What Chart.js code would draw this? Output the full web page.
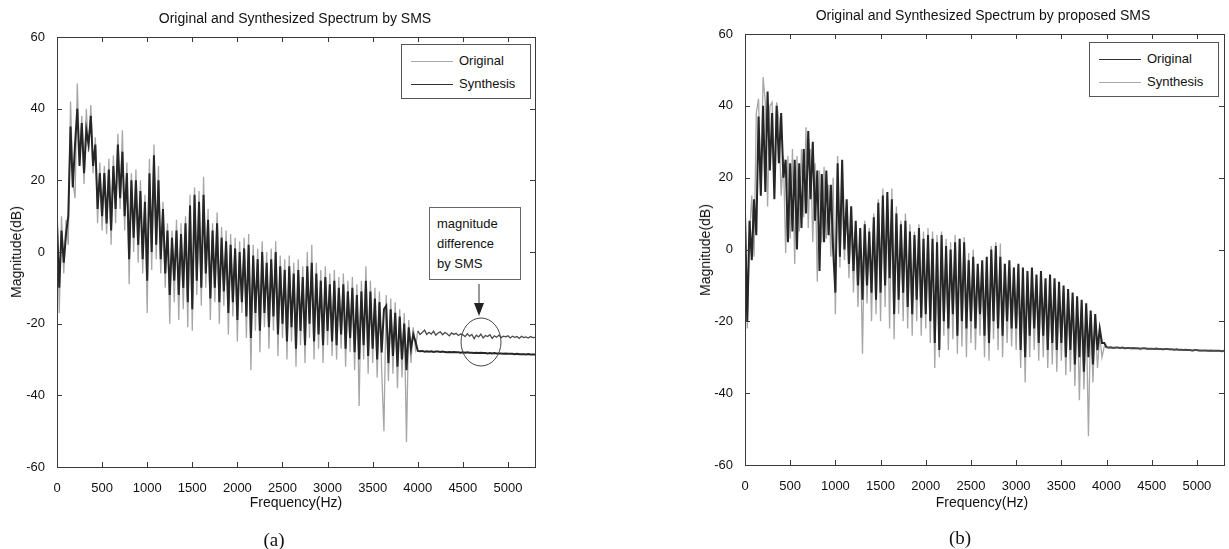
<!DOCTYPE html>
<html>
<head>
<meta charset="utf-8">
<script src="https://cdn.jsdelivr.net/npm/chart.js@4.4.0/dist/chart.umd.min.js"></script>
<style>
body{margin:0;background:#fff;width:1229px;height:549px;position:relative;overflow:hidden;font-family:"Liberation Sans",Arial,sans-serif;color:#111}
canvas,.abs{position:absolute}
.ttl{font-size:14px;white-space:nowrap;transform:translate(-50%,-50%)}
.ylab{font-size:14px;white-space:nowrap;transform:translate(-50%,-50%) rotate(-90deg)}
.cap{font-family:"Liberation Serif","Times New Roman",serif;font-size:19px;transform:translate(-50%,-50%)}
.legend{border:1px solid #555;background:#fff;font-size:13px}
.legend .row{position:absolute;left:0;height:16px;line-height:16px;white-space:nowrap}
.legend .ln{position:absolute;top:8px;height:0}
.note{border:1px solid #666;background:#fff;font-size:13px;line-height:20px;padding:6px 0 0 7px;box-sizing:border-box}
</style>
</head>
<body>
<canvas id="chartA" width="560" height="549" style="left:0;top:0"></canvas>
<canvas id="chartB" width="539" height="549" style="left:690px;top:0"></canvas>

<div class="abs ttl" style="left:295px;top:18px">Original and Synthesized Spectrum by SMS</div>
<div class="abs ttl" style="left:983px;top:15px">Original and Synthesized Spectrum by proposed SMS</div>
<div class="abs ylab" style="left:16px;top:252px">Magnitude(dB)</div>
<div class="abs ylab" style="left:705px;top:250px">Magnitude(dB)</div>
<div class="abs ttl" style="left:296px;top:502px">Frequency(Hz)</div>
<div class="abs ttl" style="left:982px;top:502px">Frequency(Hz)</div>
<div class="abs cap" style="left:274px;top:540px">(a)</div>
<div class="abs cap" style="left:960px;top:538px">(b)</div>

<div class="abs legend" style="left:401px;top:44px;width:128px;height:53px">
  <div class="row" style="top:8px"><div class="ln" style="left:9px;width:42px;border-top:1px solid #aaa"></div><span style="position:absolute;left:57px">Original</span></div>
  <div class="row" style="top:31px"><div class="ln" style="left:9px;width:42px;border-top:1px solid #333"></div><span style="position:absolute;left:57px">Synthesis</span></div>
</div>
<div class="abs legend" style="left:1089px;top:42px;width:128px;height:53px">
  <div class="row" style="top:8px"><div class="ln" style="left:9px;width:42px;border-top:1px solid #333"></div><span style="position:absolute;left:57px">Original</span></div>
  <div class="row" style="top:31px"><div class="ln" style="left:9px;width:42px;border-top:1px solid #aaa"></div><span style="position:absolute;left:57px">Synthesis</span></div>
</div>

<div class="abs note" style="left:429px;top:207px;width:92px;height:73px">magnitude<br>difference<br>by SMS</div>
<svg class="abs" style="left:0;top:0" width="1229" height="549">
  <line x1="479" y1="284" x2="479" y2="306" stroke="#333" stroke-width="1"/>
  <polygon points="474,303 484,303 479,316" fill="#222"/>
  <ellipse cx="481" cy="342" rx="20" ry="24" stroke="#444" stroke-width="1" fill="none"/>
</svg>

<script>
var origA = [
  14,-17,10,-6,9,2,42,20,15,47,26,38,19,40,28,41,22,32,8,25,
  6,24,5,26,2,27,8,33,12,34,6,25,-9,22,0,23,-3,20,-6,16,
  -17,26,-5,30,-2,24,-6,14,-10,8,-20,6,-14,9,-19,8,-16,10,-21,16,
  -22,18,-12,17,-15,21,-10,12,-19,8,-14,11,-20,7,-15,6,-23,5,-18,4,
  -25,3,-17,4,-24,5,-33,2,-22,1,-28,3,-21,0,-27,1,-22,3,-29,-1,
  -24,-2,-30,-1,-25,-3,-32,-2,-26,-4,-31,0,-24,2,-30,-3,-27,-5,-31,-4,
  -26,-6,-29,-5,-30,-7,-27,-6,-32,-8,-28,-7,-33,-9,-43,-8,-30,-4,-34,-8,
  -31,-10,-35,-11,-33,-50,-12,-36,-13,-34,-14,-38,-16,-35,-17,-53,-19,-31,-21,-27,
  -22,-23,-22.5,-21.8,-23,-22.4,-22.9,-22.1,-23.2,-22.6,-22.3,-23.1,-22.5,-22.8,-23.4,-22.6,-23,-22.7,-23.3,-22.9,
  -23.1,-23.6,-22.8,-23.5,-23.0,-24.2,-23.2,-23.7,-22.9,-24.0,-23.3,-23.6,-23.1,-24.1,-23.4,-23.8,-23.2,-23.9,-23.5,-23.7,
  -23.4,-24.0,-23.5,-23.8,-23.6,-24.1,-23.5,-23.9,-23.7,-24.0,-23.6,-23.9,-23.8
];
var synA = [
  8,-10,6,-3,5,10,35,18,30,40,24,36,22,34,30,38,24,30,12,22,
  10,22,8,23,6,24,12,30,15,28,10,22,-2,20,4,20,2,17,-2,14,
  -8,22,0,27,2,20,-2,12,-6,6,-12,4,-8,6,-12,5,-10,8,-14,13,
  -16,16,-8,14,-10,16,-6,9,-13,6,-10,8,-14,4,-11,3,-17,2,-14,1,
  -19,0,-14,1,-18,2,-24,-1,-17,-2,-22,0,-17,-3,-21,-2,-18,0,-23,-4,
  -20,-5,-25,-4,-21,-6,-27,-5,-22,-7,-26,-4,-20,-3,-25,-6,-23,-8,-26,-7,
  -22,-9,-25,-8,-26,-10,-23,-9,-27,-11,-24,-10,-28,-12,-30,-11,-26,-8,-29,-11,
  -27,-13,-30,-14,-28,-16,-15,-31,-16,-29,-17,-32,-18,-30,-20,-33,-21,-27,-23,-25,
  -27.6,-27.7,-27.6,-27.8,-27.7,-27.8,-27.7,-27.9,-27.8,-27.8,-27.9,-27.8,-27.9,-28.0,-27.9,-28.0,-27.9,-28.0,-28.0,-28.1,
  -28.0,-28.1,-28.0,-28.1,-28.1,-28.2,-28.1,-28.2,-28.1,-28.2,-28.2,-28.3,-28.2,-28.3,-28.2,-28.3,-28.3,-28.3,-28.4,-28.3,
  -28.4,-28.4,-28.4,-28.5,-28.4,-28.5,-28.5,-28.5,-28.6,-28.5,-28.6,-28.6,-28.6
];
var origB = [
  10,-20,8,-3,14,4,37,15,40,16,44,22,38,14,40,24,38,20,25,2,
  24,5,25,0,24,6,28,10,33,14,30,8,22,-6,21,2,22,4,18,0,
  -12,24,-2,25,0,14,-4,12,-6,8,-10,6,-14,7,-10,5,-12,9,-14,13,
  -12,15,-10,16,-8,14,-18,10,-14,7,-12,8,-16,5,-18,4,-14,6,-19,3,
  -18,4,-20,3,-26,2,-28,4,-20,1,-22,0,-18,2,-24,3,-20,2,-22,-3,
  -20,-2,-22,-4,-18,-3,-24,-2,-26,0,-20,1,-22,-2,-24,-4,-20,-3,-22,-5,
  -22,-4,-28,-5,-30,-6,-24,-5,-22,-7,-26,-6,-24,-8,-28,-7,-26,-8,-28,-9,
  -26,-10,-30,-11,-28,-12,-32,-13,-30,-14,-34,-15,-30,-17,-32,-18,-28,-22,-26,-26,
  -27.2,-27.3,-27.2,-27.4,-27.3,-27.3,-27.4,-27.3,-27.5,-27.4,-27.4,-27.5,-27.4,-27.5,-27.5,-27.6,-27.5,-27.5,-27.6,-27.6,
  -27.6,-27.7,-27.6,-27.7,-27.7,-27.8,-27.7,-27.7,-27.8,-27.8,-27.9,-27.8,-27.9,-27.9,-28.0,-27.9,-28.0,-28.0,-28.1,-28.0,
  -28.0,-28.1,-28.1,-28.1,-28.1,-28.2,-28.1,-28.2,-28.2,-28.2,-28.2,-28.3,-28.2
];
var synB = [
  13,-22,4,15,-2,38,42,15,48,41,12,40,41,20,41,36,15,26,-1,26,
  3,28,-4,26,5,28,9,34,6,28,2,24,-9,22,2,23,3,18,-2,20,
  -18,26,-5,20,-3,12,-8,10,-12,6,-16,4,-29,8,-15,6,-20,10,-18,14,
  -20,17,-16,15,-22,17,-25,12,-18,8,-20,10,-22,7,-24,5,-20,7,-24,5,
  -22,6,-26,5,-33,4,-30,5,-24,3,-28,2,-25,4,-29,3,-27,3.5,-30,-1,
  -26,0,-28,-5,-24,-4,-30,-3,-31,1,-25,2,-28,1.7,-30,-4,-26,-5,-27,-5,
  -28,-5,-33,-6,-37,-7,-30,-6,-28,-8,-31,-8,-30,-9,-33,-8,-32,-9,-34,-10,
  -31,-11,-35,-12,-34,-13,-38,-14,-42,-15,-39,-16,-52,-18,-37,-20,-33,-24,-30,-27,
  -27.3,-27.4,-27.3,-27.5,-27.4,-27.4,-27.5,-27.4,-27.6,-27.5,-27.5,-27.6,-27.5,-27.6,-27.6,-27.7,-27.6,-27.6,-27.7,-27.7,
  -27.7,-27.8,-27.7,-27.8,-27.8,-27.9,-27.8,-27.8,-27.9,-27.9,-28.0,-27.9,-28.0,-28.0,-28.1,-28.0,-28.1,-28.1,-28.2,-28.1,
  -28.1,-28.2,-28.2,-28.2,-28.2,-28.3,-28.2,-28.3,-28.3,-28.3,-28.3,-28.4,-28.3
];
var binHz = 25;
var freqMax = 5300;
var xTicks = [0, 500, 1000, 1500, 2000, 2500, 3000, 3500, 4000, 4500, 5000];
var yTicks = [-60, -40, -20, 0, 20, 40, 60];

var lightGray = "#a6a6a6";
var darkGray = "#262626";

function pts(vals) {
  return vals.map(function (v, i) { return { x: i * binHz, y: v }; });
}

// matlab style: box round the axes, ticks pointing inward on all sides
var boxTicks = {
  id: "boxTicks",
  afterDatasetsDraw: function (chart) {
    var ctx = chart.ctx, a = chart.chartArea, x = chart.scales.x, y = chart.scales.y;
    ctx.save();
    ctx.strokeStyle = "#3a3a3a";
    ctx.lineWidth = 1;
    ctx.strokeRect(Math.round(a.left) + 0.5, Math.round(a.top) + 0.5, Math.round(a.right - a.left), Math.round(a.bottom - a.top));
    ctx.beginPath();
    x.ticks.forEach(function (t) {
      var px = Math.round(x.getPixelForValue(t.value)) + 0.5;
      ctx.moveTo(px, a.bottom); ctx.lineTo(px, a.bottom - 5);
      ctx.moveTo(px, a.top); ctx.lineTo(px, a.top + 5);
    });
    y.ticks.forEach(function (t) {
      var py = Math.round(y.getPixelForValue(t.value)) + 0.5;
      ctx.moveTo(a.left, py); ctx.lineTo(a.left + 5, py);
      ctx.moveTo(a.right, py); ctx.lineTo(a.right - 5, py);
    });
    ctx.stroke();
    ctx.restore();
  }
};

function makeChart(id, origVals, synVals, origColor, synColor, yWidth, pad) {
  var origTop = origColor === darkGray;
  var tickFont = { family: "Liberation Sans", size: 13 };
  var thick = 2, thin = 1.3;
  return new Chart(id, {
    type: "line",
    data: {
      datasets: [
        { label: "Original", data: pts(origVals), borderColor: origColor, borderWidth: origTop ? thick : thin, pointRadius: 0, order: origTop ? 0 : 1,
          segment: { borderColor: function (c) { return c.p0.parsed.x >= 4000 ? "#4a4a4a" : undefined; } } },
        { label: "Synthesis", data: pts(synVals), borderColor: synColor, borderWidth: origTop ? thin : thick, pointRadius: 0, order: origTop ? 1 : 0 }
      ]
    },
    options: {
      responsive: false,
      animation: false,
      layout: { padding: pad },
      plugins: { legend: { display: false }, tooltip: { enabled: false } },
      elements: { line: { tension: 0, borderJoinStyle: "miter" } },
      scales: {
        x: {
          type: "linear", min: 0, max: freqMax,
          grid: { display: false }, border: { display: false },
          afterBuildTicks: function (s) { s.ticks = xTicks.map(function (v) { return { value: v }; }); },
          ticks: { autoSkip: false, maxRotation: 0, padding: 6, color: "#111", font: tickFont,
                   callback: function (v) { return String(v); } },
          afterFit: function (s) { s.height = 30; }
        },
        y: {
          min: -60, max: 60,
          grid: { display: false }, border: { display: false },
          afterBuildTicks: function (s) { s.ticks = yTicks.map(function (v) { return { value: v }; }); },
          ticks: { padding: 4, color: "#111", font: tickFont, callback: function (v) { return String(v); } },
          afterFit: function (s) { s.width = yWidth; }
        }
      }
    },
    plugins: [boxTicks]
  });
}

makeChart("chartA", origA, synA, lightGray, darkGray, 57, { left: 0, top: 37, right: 25, bottom: 52 });
makeChart("chartB", origB, synB, darkGray, lightGray, 55, { left: 0, top: 34, right: 5, bottom: 54 });
</script>
</body>
</html>
